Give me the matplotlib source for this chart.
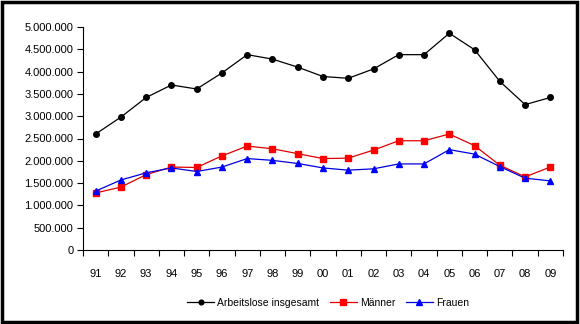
import numpy as np
import matplotlib.pyplot as plt
from matplotlib.patches import Rectangle
from matplotlib.ticker import FuncFormatter

plt.rcParams['font.family'] = ['Liberation Sans', 'DejaVu Sans']

jahre = ['91', '92', '93', '94', '95', '96', '97', '98', '99', '00',
         '01', '02', '03', '04', '05', '06', '07', '08', '09']
insgesamt = [2.60, 2.98, 3.42, 3.70, 3.61, 3.97, 4.38, 4.28, 4.10, 3.89,
             3.85, 4.06, 4.38, 4.38, 4.86, 4.49, 3.78, 3.26, 3.42]
maenner = [1.28, 1.41, 1.69, 1.86, 1.85, 2.11, 2.33, 2.27, 2.16, 2.05,
           2.06, 2.24, 2.45, 2.45, 2.60, 2.34, 1.90, 1.64, 1.86]
frauen = [1.32, 1.57, 1.73, 1.84, 1.76, 1.86, 2.05, 2.01, 1.94, 1.84,
          1.79, 1.82, 1.93, 1.93, 2.25, 2.15, 1.87, 1.61, 1.55]

insgesamt = np.array(insgesamt) * 1e6
maenner = np.array(maenner) * 1e6
frauen = np.array(frauen) * 1e6
x = np.arange(len(jahre))

fig = plt.figure(figsize=(5.8, 3.24), dpi=100)
ax = fig.add_axes([83/580, 1-250/324, 480/580, 223/324])

ax.plot(x, insgesamt, '-o', color='black', lw=0.9, ms=4, label='Arbeitslose insgesamt')
ax.plot(x, maenner, '-s', color='#e00000', mec='#ff0000', mfc='#ff0000', lw=0.9, ms=4.5, label='Männer')
ax.plot(x, frauen, '-^', color='#0000e0', mec='#0000ff', mfc='#0000ff', lw=0.9, ms=4.5, label='Frauen')

ax.set_xlim(-0.5, len(jahre) - 0.5)
ax.set_ylim(0, 5e6)
ax.set_yticks(np.arange(0, 5.01e6, 5e5))
ax.yaxis.set_major_formatter(FuncFormatter(lambda v, p: f'{int(v):,}'.replace(',', '.')))
ax.set_xticks(x)
ax.set_xticklabels(jahre)
ax.set_xticks(np.arange(-0.5, len(jahre), 1), minor=True)
ax.tick_params(axis='x', which='major', length=0, pad=14, labelsize=8)
ax.tick_params(axis='x', which='minor', length=4, direction='out', width=0.8)
ax.tick_params(axis='y', length=4, width=0.8, labelsize=8, pad=3)
for s in ['top', 'right']:
    ax.spines[s].set_visible(False)
for s in ['left', 'bottom']:
    ax.spines[s].set_linewidth(0.8)

leg = fig.legend(loc='center', bbox_to_anchor=(328/580, 1-303/324), ncol=3,
                 frameon=False, fontsize=7.5, handlelength=2.6, columnspacing=1.0,
                 handletextpad=0.3, markerscale=0.85)

fig.patches.append(Rectangle((0.004, 0.006), 0.99, 0.988, transform=fig.transFigure,
                             fill=False, edgecolor='black', lw=2.5))

fig.savefig('out.png', dpi=100)
